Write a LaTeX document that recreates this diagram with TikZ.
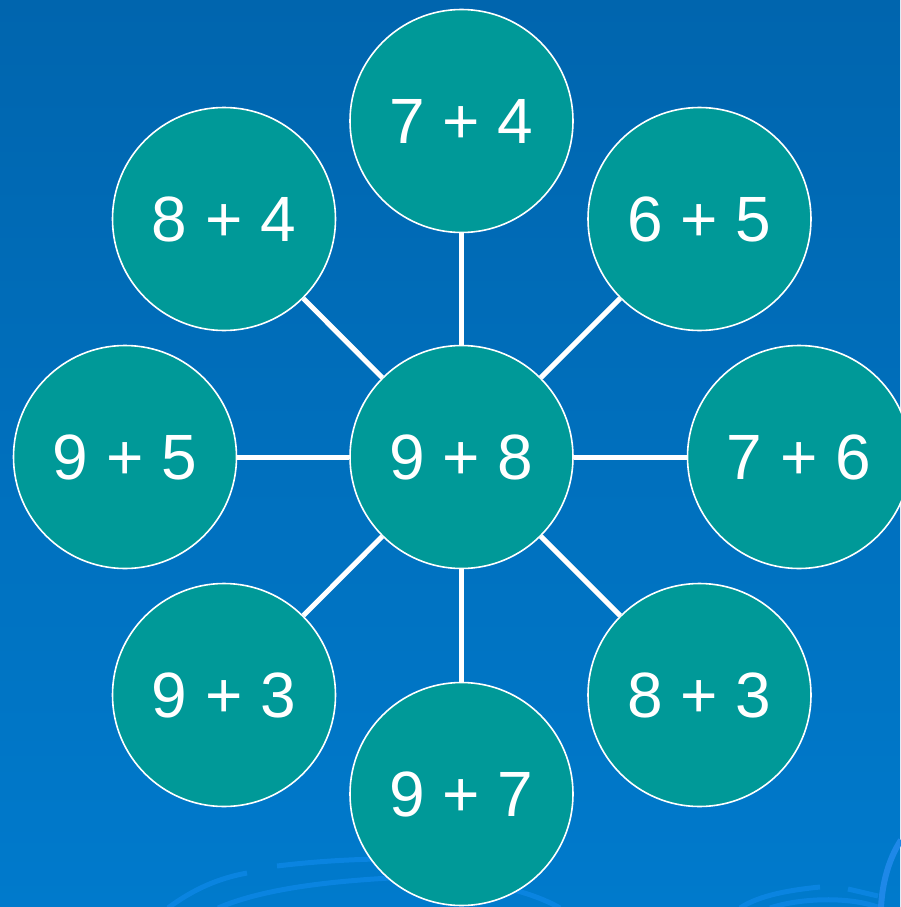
\documentclass[tikz,border=0pt]{standalone}
\usepackage{fontspec}
\setmainfont{Liberation Sans}
\definecolor{bgtop}{RGB}{0,101,174}
\definecolor{bgbot}{RGB}{0,122,204}
\definecolor{tealc}{RGB}{0,153,152}
\definecolor{swirl}{RGB}{10,132,224}
\definecolor{swirlb}{RGB}{30,136,232}
\begin{document}
\begin{tikzpicture}[x=1pt,y=-1pt,
  bubble/.style={circle, fill=tealc, draw=white, line width=1.6pt, minimum size=223pt, inner sep=0pt, text=white, font=\fontsize{64}{64}\selectfont},
  conn/.style={draw=white, line width=5pt},
  swirlline/.style={draw=swirl, line width=5pt, line cap=butt}]
\useasboundingbox (0,0) rectangle (900,907);
\shade[top color=bgtop, bottom color=bgbot] (0,0) rectangle (900,907);
% faint swirls
\draw[swirlline] (168,908) .. controls (195,888) and (220,878) .. (247,873);
\draw[swirlline] (277,866) .. controls (310,862) and (340,860) .. (375,859);
\draw[swirlline] (218,908) .. controls (260,890) and (320,882) .. (390,878) .. controls (450,875) and (520,885) .. (560,908);
\draw[swirlline] (740,908) .. controls (760,895) and (790,890) .. (820,887);
\draw[swirlline] (770,908) .. controls (800,898) and (850,896) .. (880,908);
\draw[swirlline] (848,889) -- (878,896);
\draw[draw=swirlb, line width=6pt] (881,908) .. controls (882,885) and (888,860) .. (901,840);
% nodes
\node[bubble] (c)  at (461.5,457) {9 + 8};
\node[bubble] (n)  at (461.5,121) {7 + 4};
\node[bubble] (ne) at (699.5,219) {6 + 5};
\node[bubble] (e)  at (799,457)   {7 + 6};
\node[bubble] (se) at (699.5,695) {8 + 3};
\node[bubble] (s)  at (461.5,794) {9 + 7};
\node[bubble] (sw) at (224,695)   {9 + 3};
\node[bubble] (w)  at (125,457)   {9 + 5};
\node[bubble] (nw) at (224,219)   {8 + 4};
\foreach \t in {n,ne,e,se,s,sw,w,nw}{
  \draw[conn] (c) -- (\t);
}
\end{tikzpicture}
\end{document}
